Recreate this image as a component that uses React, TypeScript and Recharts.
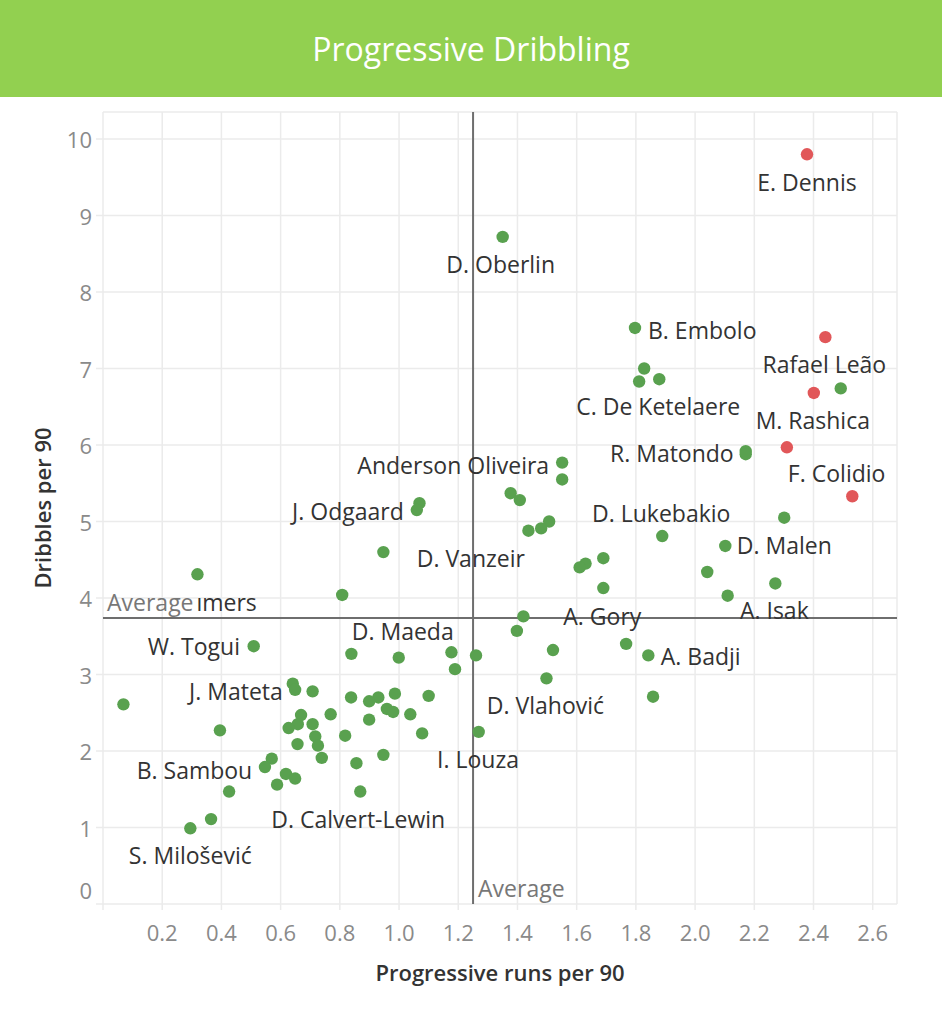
import React from "react";
import { ScatterChart, Scatter, XAxis, YAxis, CartesianGrid, ReferenceLine } from "recharts";

// ---------- data ----------
const titleText = "Progressive Dribbling";
const xAxisTitle = "Progressive runs per 90";
const yAxisTitle = "Dribbles per 90";
const averageText = "Average";

const redRuns = [2.378, 2.44, 2.401, 2.31, 2.531];
const redDribbles = [9.8, 7.41, 6.68, 5.97, 5.33];
const redNames = ["E. Dennis", "Rafael Leão", "M. Rashica", "F. Colidio", ""];

const greenRuns = [
  1.35, 1.797, 1.828, 1.811, 1.879, 2.492, 2.171, 2.171, 1.551, 1.551,
  1.377, 1.408, 1.069, 1.06, 2.301, 1.507, 1.48, 1.437, 1.889, 2.102,
  0.947, 1.69, 1.63, 1.61, 2.041, 0.319, 2.271, 1.69, 0.808, 2.11,
  1.42, 1.398, 1.767, 0.509, 1.52, 1.177, 0.839, 1.842, 1.26, 0.999,
  1.189, 1.498, 0.641, 0.649, 1.858, 0.708, 0.986, 1.1, 0.838, 0.93,
  0.899, 0.069, 0.959, 0.98, 0.769, 0.669, 1.038, 0.899, 0.658, 0.708,
  0.627, 0.395, 1.269, 1.078, 0.818, 0.717, 0.657, 0.726, 0.739, 0.947,
  0.57, 0.547, 0.856, 0.618, 0.649, 0.588, 0.426, 0.869, 0.365, 0.295,
];
const greenDribbles = [
  8.72, 7.53, 7.0, 6.83, 6.86, 6.74, 5.92, 5.88, 5.77, 5.55,
  5.37, 5.28, 5.24, 5.15, 5.05, 5.0, 4.91, 4.88, 4.81, 4.68,
  4.6, 4.52, 4.45, 4.4, 4.34, 4.31, 4.19, 4.13, 4.04, 4.03,
  3.76, 3.57, 3.4, 3.37, 3.32, 3.29, 3.27, 3.25, 3.25, 3.22,
  3.07, 2.95, 2.88, 2.8, 2.71, 2.78, 2.75, 2.72, 2.7, 2.7,
  2.65, 2.61, 2.55, 2.51, 2.48, 2.47, 2.48, 2.41, 2.35, 2.35,
  2.3, 2.27, 2.25, 2.23, 2.2, 2.19, 2.09, 2.07, 1.91, 1.95,
  1.9, 1.79, 1.84, 1.7, 1.64, 1.56, 1.47, 1.47, 1.11, 0.99,
];
const greenNames = [
  "D. Oberlin", "B. Embolo", "", "", "C. De Ketelaere", "", "R. Matondo", "", "Anderson Oliveira", "",
  "", "", "", "J. Odgaard", "", "", "", "D. Vanzeir", "D. Lukebakio", "D. Malen",
  "", "", "", "", "", "ımers", "A. Isak", "A. Gory", "", "",
  "", "", "", "W. Togui", "", "", "", "A. Badji", "", "D. Maeda",
  "", "D. Vlahović", "", "J. Mateta", "", "", "", "", "", "",
  "", "", "", "", "", "", "", "", "", "",
  "", "", "I. Louza", "", "", "", "", "", "", "",
  "", "B. Sambou", "", "", "", "", "", "D. Calvert-Lewin", "", "S. Milošević",
];

const xTicks = [0, 0.2, 0.4, 0.6, 0.8, 1.0, 1.2, 1.4, 1.6, 1.8, 2.0, 2.2, 2.4, 2.6];
const yTicks = [0, 1, 2, 3, 4, 5, 6, 7, 8, 9, 10];
const averageRuns = 1.25;
const averageDribbles = 3.74;

// ---------- layout / style ----------
const FONT = "'Open Sans', sans-serif";
const W = 942;
const H = 1011;
const GRID = "#ebebeb";
const GREEN = "#59a14f";
const RED = "#e15759";

type Anchor = "start" | "middle" | "end";
const labelLayout: Record<string, { dx: number; dy: number; anchor: Anchor }> = {
  "E. Dennis": { dx: 0, dy: 28, anchor: "middle" },
  "Rafael Leão": { dx: -1, dy: 27, anchor: "middle" },
  "M. Rashica": { dx: -1, dy: 27, anchor: "middle" },
  "F. Colidio": { dx: 1, dy: 26, anchor: "start" },
  "D. Oberlin": { dx: -2, dy: 27, anchor: "middle" },
  "B. Embolo": { dx: 13, dy: 2, anchor: "start" },
  "C. De Ketelaere": { dx: -1, dy: 27, anchor: "middle" },
  "R. Matondo": { dx: -12, dy: 2, anchor: "end" },
  "Anderson Oliveira": { dx: -13, dy: 2, anchor: "end" },
  "J. Odgaard": { dx: -13, dy: 1, anchor: "end" },
  "D. Lukebakio": { dx: -1, dy: -23, anchor: "middle" },
  "D. Malen": { dx: 11.5, dy: -1, anchor: "start" },
  "D. Vanzeir": { dx: -3.5, dy: 27.5, anchor: "end" },
  "A. Gory": { dx: -1, dy: 28, anchor: "middle" },
  "A. Isak": { dx: -1, dy: 27, anchor: "middle" },
  "W. Togui": { dx: -13.7, dy: 0, anchor: "end" },
  "D. Maeda": { dx: 4, dy: -27, anchor: "middle" },
  "A. Badji": { dx: 12.4, dy: 1, anchor: "start" },
  "J. Mateta": { dx: -12.3, dy: 1, anchor: "end" },
  "D. Vlahović": { dx: -1, dy: 27, anchor: "middle" },
  "B. Sambou": { dx: -12.7, dy: 2.6, anchor: "end" },
  "I. Louza": { dx: -0.7, dy: 27, anchor: "middle" },
  "D. Calvert-Lewin": { dx: -2, dy: 27, anchor: "middle" },
  "S. Milošević": { dx: 0, dy: 27, anchor: "middle" },
  "ımers": { dx: 59.4, dy: 27.4, anchor: "end" },
};

function build(runs: number[], dribbles: number[], names: string[]) {
  return runs.map((x, i) => ({ x, y: dribbles[i], name: names[i] }));
}
const greenData = build(greenRuns, greenDribbles, greenNames);
const redData = build(redRuns, redDribbles, redNames);
const labelData = [...greenData, ...redData].filter((d) => d.name);

const makeDot = (color: string) => (props: any) => (
  <circle cx={props.cx} cy={props.cy} r={6.2} fill={color} />
);

const LabelShape = (props: any) => {
  const name = props.payload?.name;
  const l = labelLayout[name];
  if (!l) return <g />;
  return (
    <text
      x={props.cx + l.dx}
      y={props.cy + l.dy}
      textAnchor={l.anchor}
      dominantBaseline="central"
      fontSize={23}
      fill="#333333"
      fontFamily={FONT}
    >
      {name}
    </text>
  );
};

const XTick = (props: any) => {
  const v = props.payload.value;
  if (v === 0) return <g />;
  return (
    <text x={props.x} y={props.y + 22} textAnchor="middle" dominantBaseline="central" fontSize={22} fill="#8a8a8a" fontFamily={FONT}>
      {v.toFixed(1)}
    </text>
  );
};

const YTick = (props: any) => {
  const v = props.payload.value;
  return (
    <text x={props.x} y={props.y + (v === 0 ? -14 : 0)} textAnchor="end" dominantBaseline="central" fontSize={22} fill="#8a8a8a" fontFamily={FONT}>
      {v}
    </text>
  );
};

const HAvgLabel = (props: any) => {
  const vb = props.viewBox;
  return (
    <text x={vb.x + 4} y={vb.y - 16} dominantBaseline="central" fontSize={23} fill="#777777" fontFamily={FONT}>
      {averageText}
    </text>
  );
};

const VAvgLabel = (props: any) => {
  const vb = props.viewBox;
  return (
    <text x={vb.x + 5} y={vb.y + vb.height - 16} dominantBaseline="central" fontSize={23} fill="#777777" fontFamily={FONT}>
      {averageText}
    </text>
  );
};

const XTitle = (props: any) => {
  const vb = props.viewBox;
  return (
    <text x={vb.x + vb.width / 2} y={vb.y + 68} textAnchor="middle" dominantBaseline="central" fontSize={22} fontWeight={600} fill="#333333" fontFamily={FONT}>
      {xAxisTitle}
    </text>
  );
};

const YTitle = (props: any) => {
  const vb = props.viewBox;
  const cx = 42;
  const cy = vb.y + vb.height / 2;
  return (
    <text x={cx} y={cy} transform={`rotate(-90 ${cx} ${cy})`} textAnchor="middle" dominantBaseline="central" fontSize={22} fontWeight={600} fill="#333333" fontFamily={FONT}>
      {yAxisTitle}
    </text>
  );
};

export default function App() {
  return (
    <div style={{ position: "absolute", left: 0, top: 0, width: W, height: H, background: "#ffffff", fontFamily: FONT }}>
      <div style={{ position: "absolute", left: 0, top: 0, width: W, height: 97, background: "#92d050", color: "#ffffff", fontSize: 32, lineHeight: "97px", textAlign: "center", zIndex: 2 }}>
        {titleText}
      </div>
      <div style={{ position: "absolute", left: 0, top: 0 }}>
        <ScatterChart width={W} height={H} margin={{ top: 112, right: 45, bottom: 47, left: 43 }}>
          <CartesianGrid stroke={GRID} strokeWidth={1.5} />
          <XAxis
            type="number"
            dataKey="x"
            domain={[0, 2.682]}
            ticks={xTicks}
            allowDataOverflow
            axisLine={false}
            tickLine={{ stroke: GRID, strokeWidth: 1.5 }}
            tickSize={6}
            tickMargin={0}
            height={60}
            tick={<XTick />}
            label={<XTitle />}
          />
          <YAxis
            type="number"
            dataKey="y"
            domain={[0, 10.353]}
            ticks={yTicks}
            allowDataOverflow
            axisLine={false}
            tickLine={{ stroke: GRID, strokeWidth: 1.5 }}
            tickSize={7}
            tickMargin={4}
            width={60}
            tick={<YTick />}
            label={<YTitle />}
          />
          <Scatter data={greenData} fill={GREEN} shape={makeDot(GREEN)} isAnimationActive={false} />
          <Scatter data={redData} fill={RED} shape={makeDot(RED)} isAnimationActive={false} />
          <ReferenceLine y={averageDribbles} stroke="#6e6e6e" strokeWidth={2} label={<HAvgLabel />} />
          <ReferenceLine x={averageRuns} stroke="#6e6e6e" strokeWidth={2} label={<VAvgLabel />} />
          <Scatter data={labelData} fill="none" shape={LabelShape} isAnimationActive={false} />
        </ScatterChart>
      </div>
    </div>
  );
}
